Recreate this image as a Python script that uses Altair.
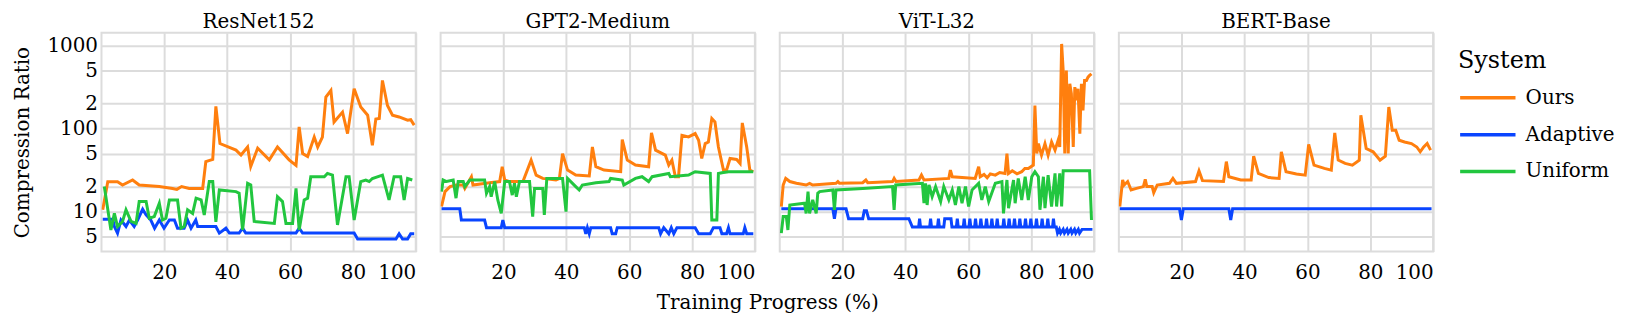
import altair as alt
import pandas as pd

FONT = "DejaVu Serif"
MODELS = ["ResNet152", "GPT2-Medium", "ViT-L32", "BERT-Base"]
SYSTEMS = ["Ours", "Adaptive", "Uniform"]
COLORS = ["#ff7f0e", "#0a45ff", "#22c63f"]
Y_TICKS = [5, 10, 20, 50, 100, 200, 500, 1000]
X_TICKS = [20, 40, 60, 80, 100]

# ---------------- ResNet152 ----------------
RESNET_OURS_X = [0.4, 2, 5.1, 6.7, 9.9, 12, 18.4, 22.6, 24, 25.5, 27.9, 32.2, 33.2, 35.4, 36.4, 37.7, 42.8, 44.4, 46.5, 47.5, 49.7, 53.4, 56, 59.7, 61.9, 62.9, 64, 65.6, 67.7, 68.8, 70.3, 71.4, 73, 74, 76.7, 78.3, 80.4, 82.5, 84.7, 86.2, 87.3, 88.4, 89.4, 91, 92.6, 94.7, 97.4, 98.4, 99.5]
RESNET_OURS_Y = [10.5, 22.9, 22.9, 20.9, 24, 20.9, 20, 19, 18.5, 20, 19, 19, 40, 42.5, 185, 66, 55, 48, 60, 35, 58, 42, 60, 42, 36, 105, 50, 46, 79, 60, 79, 240, 288, 120, 158, 87, 302, 182, 145, 63, 130, 132, 380, 190, 145, 138, 126, 128, 110]
RESNET_ADAPTIVE_X = [0.4, 3.6, 4.1, 5.1, 6.2, 7.8, 8.9, 10.4, 11.5, 13.1, 14.2, 15.7, 16.9, 18.4, 19.9, 21.6, 23.2, 24.2, 26.3, 27.4, 28.5, 30, 30.6, 36.4, 37.5, 39.6, 40.7, 43.8, 44.9, 45.9, 61.9, 62.9, 64, 80.4, 81.5, 93.7, 94.7, 95.8, 97.4, 98.4, 99.5]
RESNET_ADAPTIVE_Y = [8.1, 8.1, 6.6, 5.5, 7.9, 6.6, 7.9, 6.6, 7.9, 10.7, 9.1, 7.9, 6.3, 7.9, 6.3, 7.9, 7.9, 6.3, 6.3, 7.9, 6.3, 7.9, 6.6, 6.6, 5.5, 6.3, 5.5, 5.5, 6.3, 5.5, 5.5, 6.3, 5.5, 5.5, 4.66, 4.66, 5.4, 4.66, 4.66, 5.4, 5.4]
RESNET_UNIFORM_X = [0.9, 3, 4.1, 5.1, 6.7, 7.8, 9.4, 11, 12, 14.2, 15.2, 16.8, 18.4, 19.4, 20.5, 21.6, 24.2, 25.3, 26.3, 27.4, 29, 30.1, 31.7, 32.7, 34.3, 35.4, 36.4, 37.5, 42.8, 43.8, 44.9, 46.5, 47.5, 48.6, 55, 56, 57.6, 58.7, 60.8, 61.9, 62.9, 64.5, 65.6, 66.6, 70.9, 71.9, 73.5, 75.1, 77.8, 78.8, 80.4, 82.5, 84.1, 85.2, 86.2, 89.4, 91.5, 93.1, 95.2, 96.3, 97.4, 98.9]
RESNET_UNIFORM_Y = [20, 6, 9.5, 6.6, 7.6, 10.5, 7.6, 7.2, 13.2, 13.2, 8.3, 8.7, 12.6, 7.9, 8.3, 13.8, 13.8, 6.3, 6.6, 10.5, 9.5, 14.5, 13.8, 9.1, 23, 23, 7.5, 18.2, 17.4, 16.6, 6, 21.9, 20.9, 7.6, 7.2, 15.1, 13.2, 7.2, 7.2, 19, 6, 13.8, 14.5, 26.3, 26.3, 28.8, 27.5, 6.9, 26.3, 26.3, 7.9, 23, 24, 23, 25, 27.5, 13.8, 26.3, 26.3, 13.8, 25, 24]

# ---------------- GPT2-Medium ----------------
GPT2_OURS_X = [0.3, 1.4, 3, 5.1, 7.2, 7.7, 9.8, 10.3, 15.6, 18.8, 19.6, 20.4, 21.9, 26.2, 28.8, 30.4, 32.5, 36.7, 37.8, 38.8, 40.4, 43, 47.3, 48.3, 49.4, 52, 57.3, 57.8, 59.4, 62, 66.2, 67.1, 68.4, 71.5, 72.6, 73.6, 74.7, 75.7, 76.8, 78.9, 81, 82.1, 83.1, 84.2, 85.2, 86.3, 87.3, 88.4, 90, 91, 92.1, 94.2, 95.3, 96, 97.4, 98.4, 99.5]
GPT2_OURS_Y = [11.5, 17.4, 20, 20.9, 20.9, 19, 26.3, 20.9, 22.3, 23, 34.7, 24, 23, 23, 41.7, 27.5, 25.1, 24, 25.1, 50, 31.6, 27.5, 26.8, 60, 34.7, 31.6, 30.2, 73.8, 41.7, 36.3, 34.7, 88.7, 55, 47.9, 36.3, 41.7, 26.3, 26.3, 83, 79.4, 87, 72.4, 43.6, 66, 69, 132, 120, 60, 31.6, 31.6, 43.6, 42.5, 38, 117, 60, 31.6, 30.2]
GPT2_ADAPTIVE_X = [0.3, 6.1, 6.6, 14, 14.6, 19.3, 19.8, 20.4, 45.7, 46.2, 46.7, 47.3, 47.8, 54.1, 54.6, 55.7, 56.2, 69.4, 70, 71, 72.6, 73.4, 74.2, 75.2, 81, 82.1, 85.8, 86.8, 88.9, 89.5, 91, 91.6, 92.1, 96.3, 96.8, 97.4, 99.5]
GPT2_ADAPTIVE_Y = [10.8, 10.8, 7.9, 7.9, 6.4, 6.4, 7.9, 6.4, 6.4, 5.4, 6.4, 5.4, 6.4, 6.4, 5.4, 5.4, 6.4, 6.4, 5.4, 6.4, 5.4, 6.4, 5.4, 6.4, 6.4, 5.4, 5.4, 6.4, 6.4, 5.4, 5.4, 6.4, 5.4, 5.4, 6.4, 5.4, 5.4]
GPT2_UNIFORM_X = [0.3, 0.8, 1.9, 4, 4.9, 5.6, 7.2, 7.7, 9.3, 14, 14.6, 15.6, 16.1, 17.2, 18.2, 19.3, 20.4, 21.9, 22.8, 23.5, 24.1, 25.1, 28.3, 29.3, 29.9, 32.5, 33, 33.8, 38.8, 39.9, 40.4, 43, 44.1, 45.1, 49.4, 53.6, 54.1, 57.8, 58.3, 62, 64.1, 66.2, 67.3, 72.6, 73.1, 78.9, 81, 85.8, 86.3, 87.9, 88.4, 89.5, 91.6, 99.5]
GPT2_UNIFORM_Y = [17.4, 24, 23, 24, 14.5, 23, 23, 20, 24, 24, 16.6, 20, 15.1, 23, 13.8, 9.5, 23, 23, 15.8, 21.9, 15.1, 23, 23, 8.7, 19, 19, 9.1, 25.1, 25.1, 10, 25.1, 20, 18.2, 20.9, 22.3, 23, 25.1, 24, 20.9, 25.1, 26.3, 23, 26.3, 28.8, 26.3, 27.5, 30.2, 28.8, 7.9, 7.9, 28.8, 29.4, 30.2, 30.2]

# ---------------- ViT-L32 ----------------
VIT_OURS_X = [0.5, 1.1, 1.9, 3.2, 5.3, 8.4, 9.5, 10.5, 17.9, 18.5, 19, 26.4, 27.4, 28, 35.9, 36.4, 37, 44.3, 45.1, 45.9, 53.8, 54.3, 54.9, 62.2, 63.3, 63.8, 65, 66, 67, 68.6, 70, 71.7, 72.3, 72.8, 74, 75.5, 77, 78, 79.1, 80.7, 81.2, 81.8, 82.3, 83.3, 84.4, 85.4, 86.5, 87.6, 88.6, 89.1, 89.7, 90.2, 90.7, 91.2, 91.8, 92.3, 92.8, 93.4, 93.9, 94.4, 94.9, 95.5, 96, 96.5, 97, 97.6, 98.1, 98.6, 99.2]
VIT_OURS_Y = [11.5, 20.9, 25.1, 23, 21.9, 20.9, 21.9, 20.9, 21.9, 23, 21.9, 22.3, 24, 22.3, 23, 25.1, 23, 24, 27.5, 24, 25.1, 31.6, 26.3, 25.1, 34.7, 26.3, 28, 25.5, 28.5, 27.5, 29.5, 28.8, 50, 28.8, 31, 28.5, 30.2, 33, 33.1, 36.3, 190, 50, 66, 47.9, 66, 47.9, 69, 55, 72.4, 60, 1047, 501, 50, 501, 50, 347, 263, 60, 316, 219, 302, 87, 347, 166, 380, 380, 417, 437, 457]
VIT_ADAPTIVE_X = [0.5, 15.8, 16.9, 17.4, 17.9, 21.1, 21.9, 26.4, 26.9, 27.6, 28.3, 41.1, 42.2, 44.2, 44.5, 44.8, 47.7, 48, 48.3, 50.2, 50.5, 50.8, 52.2, 52.5, 54.5, 54.8, 56.2, 56.5, 56.8, 58.4, 58.7, 59, 60.2, 60.5, 60.8, 62, 62.3, 62.6, 63.7, 64, 64.3, 65.5, 65.8, 66.1, 67.2, 67.5, 67.8, 68.9, 69.2, 69.5, 71, 71.3, 71.6, 72.7, 73, 73.3, 74.4, 74.7, 75, 76.1, 76.4, 76.7, 77.9, 78.2, 78.5, 79.6, 79.9, 80.2, 81.4, 81.7, 82, 83.2, 83.5, 83.8, 85, 85.3, 85.6, 86.8, 87.1, 87.4, 88, 88.4, 89, 89.4, 90.2, 90.6, 91.4, 91.8, 92.6, 93, 93.8, 94.2, 95, 95.4, 96.2, 96.6, 99.5]
VIT_ADAPTIVE_Y = [10.8, 10.8, 10.8, 8.2, 10.8, 10.8, 8.2, 8.2, 10.2, 10.2, 8.2, 8.2, 6.5, 6.5, 8.2, 6.5, 6.5, 8.2, 6.5, 6.5, 8.2, 6.5, 6.5, 8.2, 8.2, 6.5, 6.5, 8.2, 6.5, 6.5, 8.2, 6.5, 6.5, 8.2, 6.5, 6.5, 8.2, 6.5, 6.5, 8.2, 6.5, 6.5, 8.2, 6.5, 6.5, 8.2, 6.5, 6.5, 8.2, 6.5, 6.5, 8.2, 6.5, 6.5, 8.2, 6.5, 6.5, 8.2, 6.5, 6.5, 8.2, 6.5, 6.5, 8.2, 6.5, 6.5, 8.2, 6.5, 6.5, 8.2, 6.5, 6.5, 8.2, 6.5, 6.5, 8.2, 6.5, 6.5, 8.2, 6.5, 6.5, 5.5, 6.1, 5.5, 6.1, 5.5, 6.1, 5.5, 6.1, 5.5, 6.1, 5.5, 6.1, 5.5, 6.1, 6.1, 6.1]
VIT_UNIFORM_X = [0.5, 1.1, 2.1, 2.6, 3.2, 7.9, 8.4, 9, 9.5, 10.5, 11.6, 12.1, 12.7, 16.9, 17.4, 17.9, 26.4, 35.9, 36.4, 36.9, 45.4, 45.9, 46.4, 46.9, 47.5, 48.5, 49.6, 51.2, 52.2, 53.8, 54.9, 55.9, 57, 58, 59.1, 60.1, 61.2, 63.3, 64.3, 65.4, 66.5, 68.6, 70.7, 71.2, 72.3, 72.8, 74.4, 74.9, 75.9, 77, 78.1, 79.1, 80.2, 81.2, 82.3, 82.8, 83.9, 84.4, 85.4, 86.5, 87.6, 88.1, 89.1, 89.7, 90.2, 98.6, 99.2]
VIT_UNIFORM_Y = [5.5, 8.7, 8.7, 6, 12, 12.6, 9.5, 17.4, 9.5, 13.8, 9.5, 16.6, 17.4, 18.2, 10.5, 18.2, 19, 20, 10.5, 20.9, 21.9, 12.6, 21.9, 12, 20.9, 15.1, 20, 13.2, 20, 13.8, 18.2, 12, 20, 12.6, 20, 11.5, 18.2, 21.9, 13.8, 20, 13.2, 21.9, 23, 9.5, 24, 11, 24, 12.6, 25.1, 13.8, 26.3, 13.8, 26.3, 30.2, 26.3, 10.5, 26.3, 11, 27.5, 11.5, 28.8, 11.5, 28.8, 11.5, 31, 31, 7.9]

# ---------------- BERT-Base ----------------
BERT_OURS_X = [0.3, 1.2, 1.7, 2.8, 3.9, 5.6, 7.8, 8.4, 8.9, 10.6, 11.1, 12.2, 16.1, 17.2, 18.3, 24.4, 25.5, 26.6, 33.3, 34.2, 35, 38.8, 42.1, 42.9, 44.4, 47.7, 51, 51.7, 53.2, 56.5, 59.3, 60.4, 62.1, 65.4, 67.6, 68.7, 69.8, 72, 74.3, 76.5, 77, 78.7, 80.9, 83.1, 84.8, 85.9, 87, 88.1, 89.2, 90.9, 93.1, 94.8, 95.9, 97, 98.1, 99.2]
BERT_OURS_Y = [11.5, 24, 20.9, 23, 18.2, 19, 20, 24.4, 20, 20, 16.9, 20.9, 21.9, 25.1, 21.9, 23, 30.9, 23.6, 23, 40, 26.3, 24, 24, 46.5, 28.8, 25.7, 25.1, 52.5, 30.2, 28.3, 27.5, 64.6, 36.3, 33.1, 31.6, 88.7, 41.7, 38, 36.3, 41.7, 145, 57.5, 52.5, 41.7, 46.5, 182, 95.5, 95.5, 72.4, 69, 66, 60, 52.5, 60, 66, 55]
BERT_ADAPTIVE_X = [0.3, 19.3, 19.9, 20.5, 35, 35.6, 36.2, 99.5]
BERT_ADAPTIVE_Y = [10.8, 10.8, 7.9, 10.8, 10.8, 7.9, 10.8, 10.8]

SERIES = [
    ("ResNet152", "Ours", RESNET_OURS_X, RESNET_OURS_Y),
    ("ResNet152", "Adaptive", RESNET_ADAPTIVE_X, RESNET_ADAPTIVE_Y),
    ("ResNet152", "Uniform", RESNET_UNIFORM_X, RESNET_UNIFORM_Y),
    ("GPT2-Medium", "Ours", GPT2_OURS_X, GPT2_OURS_Y),
    ("GPT2-Medium", "Adaptive", GPT2_ADAPTIVE_X, GPT2_ADAPTIVE_Y),
    ("GPT2-Medium", "Uniform", GPT2_UNIFORM_X, GPT2_UNIFORM_Y),
    ("ViT-L32", "Ours", VIT_OURS_X, VIT_OURS_Y),
    ("ViT-L32", "Adaptive", VIT_ADAPTIVE_X, VIT_ADAPTIVE_Y),
    ("ViT-L32", "Uniform", VIT_UNIFORM_X, VIT_UNIFORM_Y),
    ("BERT-Base", "Ours", BERT_OURS_X, BERT_OURS_Y),
    ("BERT-Base", "Adaptive", BERT_ADAPTIVE_X, BERT_ADAPTIVE_Y),
]

rows = []
for model, system, xs, ys in SERIES:
    for x, y in zip(xs, ys):
        rows.append({"model": model, "system": system, "progress": x, "ratio": y})
df = pd.DataFrame(rows)

label_expr = ("datum.value == 1000 ? '1000' : datum.value == 100 ? '100' : "
              "datum.value == 10 ? '10' : (datum.value == 5 || datum.value == 50 || datum.value == 500) ? '5' : '2'")

base = alt.Chart(df).mark_line(strokeWidth=3, clip=True).encode(
    x=alt.X("progress:Q",
            scale=alt.Scale(domain=[0, 100], nice=False, zero=False),
            axis=alt.Axis(values=X_TICKS, title=None, ticks=False, domain=False,
                          labelPadding=10, labelFontSize=20)),
    y=alt.Y("ratio:Q",
            scale=alt.Scale(type="log", domain=[3.3, 1430], nice=False),
            axis=alt.Axis(values=Y_TICKS, labelExpr=label_expr, title="Compression Ratio",
                          ticks=False, domain=False, labelPadding=3, titlePadding=14,
                          labelFontSize=20, titleFontSize=20)),
    color=alt.Color("system:N", scale=alt.Scale(domain=SYSTEMS, range=COLORS),
                    legend=alt.Legend(title="System")),
).properties(width=316, height=220)

chart = base.facet(
    column=alt.Column("model:N", sort=MODELS,
                      header=alt.Header(title="Training Progress (%)", titleOrient="bottom",
                                        labelOrient="top", labelFontSize=20, titleFontSize=20,
                                        labelFont=FONT, titleFont=FONT, titleFontWeight="normal",
                                        labelColor="#000", titleColor="#000", labelPadding=0,
                                        titlePadding=1)),
    spacing=23,
).properties(
    padding={"left": 5, "top": 3, "right": 5, "bottom": 5}
).configure_view(
    stroke="#dcdcdc", strokeWidth=2
).configure_axis(
    gridColor="#dcdcdc", gridWidth=2, labelFont=FONT, titleFont=FONT,
    labelColor="#000", titleColor="#000", titleFontWeight="normal"
).configure_legend(
    titleFont=FONT, labelFont=FONT, titleFontSize=24, labelFontSize=20,
    titleFontWeight="normal", titleColor="#000", labelColor="#000",
    symbolType="stroke", symbolSize=3100, symbolStrokeWidth=3.5,
    clipHeight=35, rowPadding=2, labelOffset=8, offset=8, padding=16, titlePadding=8
)

chart.save("out.html", embed_options={"renderer": "svg", "actions": False})
